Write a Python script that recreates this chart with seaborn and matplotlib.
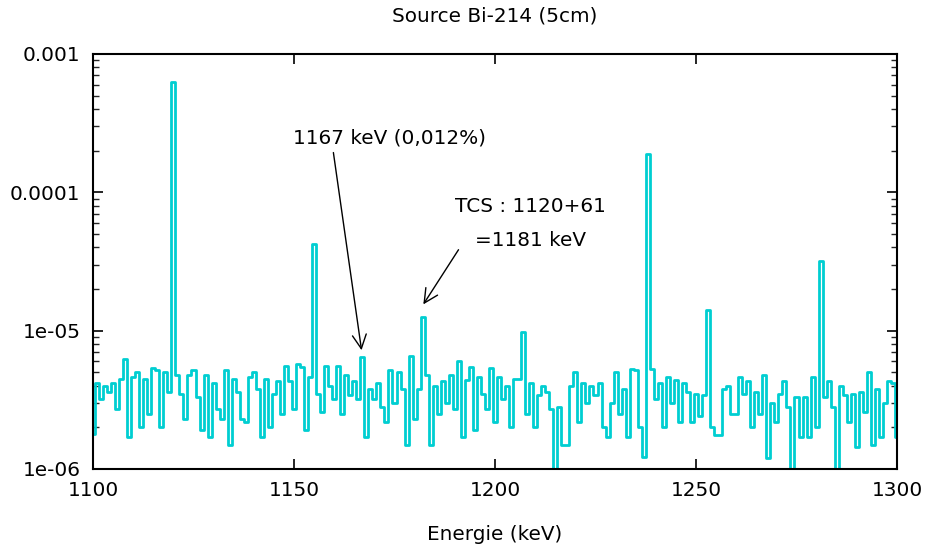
import numpy as np
import pandas as pd
import matplotlib
matplotlib.use("Agg")
import matplotlib.pyplot as plt
import seaborn as sns

# Spectre Bi-214, taux par canal de 1 keV (en unites de 1e-6)
energie_debut = 1100
taux_e6 = [
    1.8, 4.2, 3.2, 4.0, 3.6, 4.2, 2.7, 4.5, 6.2, 1.7,   # 1100-1109
    4.6, 5.0, 2.0, 4.5, 2.5, 5.4, 5.2, 2.0, 5.0, 3.6,   # 1110-1119
    630, 4.8, 3.5, 2.3, 4.8, 5.2, 3.3, 1.9, 4.8, 1.7,   # 1120-1129
    4.2, 2.7, 2.3, 5.2, 1.5, 4.5, 3.6, 2.3, 2.2, 4.6,   # 1130-1139
    5.0, 3.8, 1.7, 4.5, 2.0, 3.5, 4.3, 2.5, 5.6, 4.3,   # 1140-1149
    2.7, 5.7, 5.5, 1.9, 4.6, 42, 3.5, 2.6, 5.6, 4.0,    # 1150-1159
    3.2, 5.6, 2.5, 4.8, 3.4, 4.3, 3.2, 6.4, 1.7, 3.8,   # 1160-1169
    3.2, 4.2, 2.8, 2.2, 5.2, 3.0, 5.0, 3.8, 1.5, 6.6,   # 1170-1179
    2.3, 3.8, 12.5, 4.8, 1.5, 4.0, 2.5, 4.3, 3.0, 4.8,  # 1180-1189
    2.7, 6.0, 1.7, 4.4, 5.5, 1.9, 4.6, 3.5, 2.7, 5.4,   # 1190-1199
    2.2, 4.6, 3.2, 4.0, 2.0, 4.5, 4.5, 9.8, 2.5, 4.2,   # 1200-1209
    2.0, 3.4, 4.0, 3.6, 2.7, 0.95, 2.8, 1.5, 1.5, 4.0,  # 1210-1219
    5.0, 2.2, 4.2, 3.0, 4.0, 3.4, 4.2, 2.0, 1.7, 3.0,   # 1220-1229
    5.0, 2.5, 3.8, 1.7, 5.3, 5.2, 2.0, 1.23, 190, 5.3,  # 1230-1239
    3.2, 4.2, 2.0, 4.6, 3.0, 4.4, 2.2, 4.2, 3.6, 2.2,   # 1240-1249
    3.5, 2.4, 3.4, 14, 2.0, 1.75, 1.75, 3.8, 4.0, 2.5,  # 1250-1259
    2.5, 4.6, 3.5, 4.3, 2.0, 3.6, 2.5, 4.8, 1.2, 3.0,   # 1260-1269
    2.2, 3.5, 4.3, 2.8, 0.96, 3.3, 1.7, 3.3, 1.7, 4.6,  # 1270-1279
    2.0, 32, 3.3, 4.3, 2.8, 0.96, 4.0, 3.4, 2.2, 3.5,   # 1280-1289
    1.45, 3.6, 2.6, 5.0, 1.5, 3.8, 1.7, 3.0, 4.3, 4.2,  # 1290-1299
    1.7,                                                # 1300
]

df = pd.DataFrame({
    "energie": np.arange(energie_debut, energie_debut + len(taux_e6)),
    "taux": np.array(taux_e6) * 1e-6,
})

sns.set_style("ticks")
plt.rcParams["font.family"] = ["DejaVu Sans"]
plt.rcParams["text.color"] = "black"

fs = 14.4
fig = plt.figure(figsize=(9.28, 5.44), dpi=100)
ax = fig.add_axes([93 / 928, 1 - 469 / 544, (897 - 93) / 928, (469 - 54) / 544])

sns.lineplot(data=df, x="energie", y="taux", color="#00CED1", linewidth=2,
             drawstyle="steps-mid", estimator=None, ax=ax)

ax.set_yscale("log")
ax.set_xlim(1100, 1300)
ax.set_ylim(1e-6, 1e-3)
ax.set_xticks([1100, 1150, 1200, 1250, 1300])
ax.set_yticks([1e-6, 1e-5, 1e-4, 1e-3])
ax.set_yticklabels(["1e-06", "1e-05", "0.0001", "0.001"])
ax.tick_params(axis="both", which="major", direction="in", length=7, width=1.2,
               top=True, right=True, labelsize=fs, pad=9, colors="black")
ax.tick_params(axis="y", which="minor", direction="in", length=4, width=1,
               left=True, right=True)
ax.tick_params(axis="x", which="minor", bottom=False, top=False)
for s in ax.spines.values():
    s.set_visible(True)
    s.set_linewidth(1.5)
    s.set_color("black")
ax.set_xlabel("")
ax.set_ylabel("")

# Annotations
ax.annotate("", xy=(1166.9, 6.9e-6), xytext=(1159.7, 2.03e-4),
            arrowprops=dict(arrowstyle="->", color="black", lw=1, mutation_scale=25))
ax.text(1149.8, 2.48e-4, "1167 keV (0,012%)", fontsize=fs, ha="left", va="center")

ax.annotate("", xy=(1181.8, 1.49e-5), xytext=(1191.3, 4.0e-5),
            arrowprops=dict(arrowstyle="->", color="black", lw=1, mutation_scale=25))
ax.text(1190.0, 7.85e-5, "TCS : 1120+61", fontsize=fs, ha="left", va="center")
ax.text(1195.0, 4.47e-5, "=1181 keV", fontsize=fs, ha="left", va="center")

fig.text(495 / 928, 1 - 16 / 544, "Source Bi-214 (5cm)", fontsize=fs,
         ha="center", va="center")
fig.text(495 / 928, 1 - 534 / 544, "Energie (keV)", fontsize=fs,
         ha="center", va="center")

fig.savefig("out.png", dpi=100)
plt.close(fig)
